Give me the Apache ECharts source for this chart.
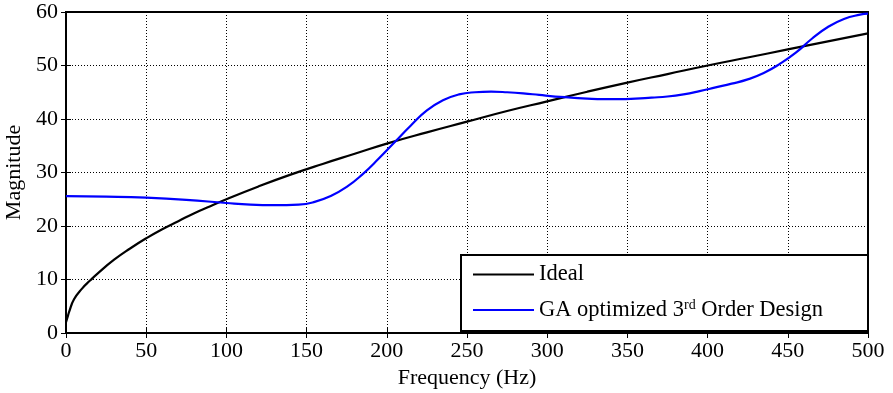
<!DOCTYPE html>
<html><head><meta charset="utf-8">
<script src="https://cdn.jsdelivr.net/npm/echarts@6/dist/echarts.min.js"></script>
<style>html,body{margin:0;padding:0;background:#fff}#c{width:893px;height:393px}</style>
</head><body><div id="c"></div>
<script>
const idealFreq = [0,1,2,5,10,15,20,30,40,50,60,70,80,90,100,120,140,160,180,200,225,250,275,300,325,350,375,400,425,450,475,500];
const idealMag  = [2,3,4,6.3,8.3,9.8,11.2,13.7,15.8,17.7,19.4,20.9,22.4,23.7,25,27.4,29.6,31.6,33.5,35.4,37.5,39.5,41.5,43.3,45.1,46.8,48.4,50,51.5,53,54.5,56];
const gaFreq = [0,25,50,75,100,115,130,145,155,165,175,185,195,205,215,225,235,245,255,265,275,285,295,305,315,325,335,345,355,365,375,385,395,405,415,425,435,445,455,465,475,485,495,500];
const gaMag  = [25.6,25.5,25.3,24.9,24.3,24.0,23.9,24.0,24.5,25.6,27.3,29.7,32.6,35.7,38.8,41.6,43.5,44.6,45.0,45.1,45.0,44.8,44.5,44.2,44.0,43.8,43.7,43.7,43.8,44.0,44.2,44.6,45.2,45.9,46.6,47.4,48.6,50.3,52.4,55.0,57.2,58.7,59.5,59.7];
const xTicks = [0,50,100,150,200,250,300,350,400,450,500];
const yTicks = [0,10,20,30,40,50,60];
const legendNames = ['Ideal','GA optimized 3rd Order Design'];

const font = 'Liberation Serif';
const chart = echarts.init(document.getElementById('c'));
const pair = (xs, ys) => xs.map((x, i) => [x, ys[i]]);
const tickStyle = {show:true, inside:true, length:5, lineStyle:{color:'#000', width:1}};
chart.setOption({
  animation:false,
  textStyle:{fontFamily:font},
  grid:{left:66, right:25, top:12, bottom:60, containLabel:false, outerBoundsMode:'none',
        show:true, borderColor:'#000', borderWidth:2, backgroundColor:'#fff'},
  graphic:[{type:'rect', z:4, shape:{x:461, y:255, width:407, height:76},
    style:{fill:'#fff', stroke:'#000', lineWidth:2}}],
  xAxis:[{
    type:'value', min:xTicks[0], max:xTicks[xTicks.length-1], interval:50,
    name:'Frequency (Hz)', nameLocation:'middle', nameGap:34,
    nameTextStyle:{fontFamily:font, fontSize:22, color:'#000'},
    axisLine:{show:true, lineStyle:{color:'#000', width:2}},
    axisTick:tickStyle,
    axisLabel:{fontFamily:font, fontSize:22, color:'#000', margin:7},
    splitLine:{show:true, lineStyle:{color:'#000', type:[1,2], width:1}}
  },{
    type:'value', position:'top', min:0, max:500, interval:50,
    axisLine:{show:true, lineStyle:{color:'#000', width:2}},
    axisTick:tickStyle, axisLabel:{show:false}, splitLine:{show:false}
  }],
  yAxis:[{
    type:'value', min:yTicks[0], max:yTicks[yTicks.length-1], interval:10,
    name:'Magnitude', nameLocation:'middle', nameGap:35,
    nameTextStyle:{fontFamily:font, fontSize:22, color:'#000'},
    axisLine:{show:true, lineStyle:{color:'#000', width:2}},
    axisTick:tickStyle,
    axisLabel:{fontFamily:font, fontSize:22, color:'#000', margin:8},
    splitLine:{show:true, lineStyle:{color:'#000', type:[1,2], width:1}}
  },{
    type:'value', position:'right', min:0, max:60, interval:10,
    axisLine:{show:true, lineStyle:{color:'#000', width:2}},
    axisTick:tickStyle, axisLabel:{show:false}, splitLine:{show:false}
  }],
  legend:{
    orient:'vertical', left:461, top:255, z:5,
    backgroundColor:'transparent', borderWidth:0,
    padding:[8, 10, 8, 12], itemGap:12, itemWidth:61, itemHeight:2, icon:'rect',
    textStyle:{fontFamily:font, fontSize:22.5, color:'#000',
      rich:{sup:{fontFamily:font, fontSize:14, color:'#000', verticalAlign:'top', lineHeight:24},
            n:{fontFamily:font, fontSize:22.5, color:'#000', lineHeight:24}}},
    formatter: function(name){
      if (name === legendNames[0]) return '{n|Ideal}';
      return '{n|GA optimized 3}{sup|rd}{n| Order Design}';
    },
    data:legendNames
  },
  series:[
    {name:legendNames[0], type:'line', data:pair(idealFreq, idealMag), symbol:'none', smooth:true,
     lineStyle:{color:'#000', width:2.2}, itemStyle:{color:'#000'}},
    {name:legendNames[1], type:'line', data:pair(gaFreq, gaMag), symbol:'none', smooth:true,
     lineStyle:{color:'#0000ff', width:2.2}, itemStyle:{color:'#0000ff'}}
  ]
});
</script></body></html>
